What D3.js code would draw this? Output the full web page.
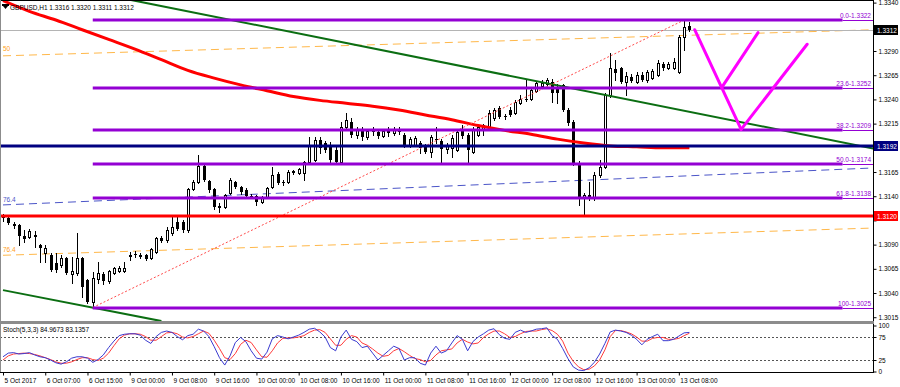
<!DOCTYPE html>
<html>
<head>
<meta charset="utf-8">
<script src="https://cdn.jsdelivr.net/npm/d3@7"></script>
<style>
body { margin: 0; background: #fff; }
text { font-family: "Liberation Sans", Arial, sans-serif; font-size: 6.5px; }
</style>
</head>
<body>
<div class="chart"></div>
<script>
// GBPUSD H1 candles, bar index 0 = 5 Oct 2017 23:00
var open = [1.3120,1.3117,1.3111,1.3110,1.3099,1.3098,1.3100,1.3090,1.3081,1.3079,
  1.3071,1.3069,1.3076,1.3060,1.3061,1.3076,1.3053,1.3031,1.3054,1.3060,
  1.3052,1.3061,1.3063,1.3063,1.3078,1.3080,1.3079,1.3079,1.3076,1.3082,
  1.3097,1.3095,1.3102,1.3113,1.3113,1.3105,1.3147,1.3155,1.3171,1.3156,
  1.3147,1.3130,1.3129,1.3143,1.3155,1.3150,1.3146,1.3140,1.3140,1.3134,
  1.3139,1.3150,1.3163,1.3155,1.3155,1.3165,1.3164,1.3164,1.3175,1.3177,
  1.3198,1.3195,1.3193,1.3188,1.3175,1.3212,1.3217,1.3203,1.3208,1.3201,
  1.3207,1.3206,1.3202,1.3207,1.3205,1.3208,1.3203,1.3193,1.3193,1.3195,
  1.3192,1.3186,1.3199,1.3197,1.3189,1.3190,1.3188,1.3207,1.3203,1.3186,
  1.3203,1.3208,1.3212,1.3221,1.3231,1.3223,1.3229,1.3226,1.3236,1.3240,
  1.3240,1.3249,1.3254,1.3256,1.3258,1.3253,1.3255,1.3229,1.3217,1.3174,
  1.3139,1.3141,1.3138,1.3162,1.3170,1.3245,1.3271,1.3272,1.3258,1.3263,
  1.3258,1.3265,1.3260,1.3262,1.3265,1.3277,1.3272,1.3272,1.3268,1.3304,
  1.3316];
var high = [1.3122,1.3119,1.3113,1.3111,1.3105,1.3106,1.3104,1.3091,1.3090,1.3081,
  1.3081,1.3079,1.3077,1.3077,1.3102,1.3077,1.3054,1.3062,1.3072,1.3062,
  1.3064,1.3067,1.3068,1.3072,1.3082,1.3083,1.3081,1.3080,1.3086,1.3098,
  1.3099,1.3108,1.3119,1.3121,1.3115,1.3149,1.3157,1.3183,1.3173,1.3157,
  1.3149,1.3133,1.3142,1.3159,1.3156,1.3151,1.3148,1.3142,1.3141,1.3140,
  1.3150,1.3170,1.3165,1.3157,1.3167,1.3167,1.3169,1.3176,1.3201,1.3201,
  1.3201,1.3197,1.3196,1.3192,1.3217,1.3226,1.3221,1.3211,1.3212,1.3209,
  1.3211,1.3209,1.3209,1.3211,1.3212,1.3211,1.3205,1.3201,1.3202,1.3197,
  1.3194,1.3203,1.3211,1.3199,1.3195,1.3203,1.3208,1.3214,1.3205,1.3211,
  1.3213,1.3215,1.3229,1.3231,1.3233,1.3225,1.3232,1.3239,1.3245,1.3260,
  1.3252,1.3259,1.3260,1.3262,1.3261,1.3256,1.3256,1.3231,1.3219,1.3176,
  1.3143,1.3155,1.3165,1.3177,1.3247,1.3288,1.3281,1.3273,1.3268,1.3266,
  1.3268,1.3268,1.3270,1.3271,1.3281,1.3279,1.3279,1.3283,1.3307,1.3322,
  1.3320];
var low = [1.3114,1.3111,1.3107,1.3090,1.3093,1.3097,1.3088,1.3072,1.3072,1.3063,
  1.3062,1.3067,1.3060,1.3050,1.3059,1.3036,1.3030,1.3025,1.3050,1.3049,
  1.3050,1.3060,1.3062,1.3062,1.3074,1.3077,1.3076,1.3074,1.3075,1.3081,
  1.3093,1.3093,1.3100,1.3105,1.3103,1.3103,1.3146,1.3154,1.3156,1.3144,
  1.3127,1.3124,1.3128,1.3142,1.3149,1.3142,1.3138,1.3138,1.3131,1.3133,
  1.3138,1.3149,1.3153,1.3152,1.3154,1.3163,1.3163,1.3157,1.3174,1.3176,
  1.3185,1.3186,1.3173,1.3173,1.3174,1.3208,1.3201,1.3200,1.3198,1.3199,
  1.3203,1.3200,1.3201,1.3202,1.3203,1.3204,1.3191,1.3191,1.3192,1.3185,
  1.3185,1.3180,1.3195,1.3175,1.3185,1.3180,1.3187,1.3200,1.3175,1.3185,
  1.3202,1.3203,1.3211,1.3219,1.3221,1.3220,1.3223,1.3225,1.3235,1.3238,
  1.3239,1.3248,1.3253,1.3255,1.3237,1.3236,1.3228,1.3214,1.3172,1.3131,
  1.3121,1.3136,1.3136,1.3160,1.3169,1.3243,1.3260,1.3257,1.3245,1.3258,
  1.3257,1.3259,1.3258,1.3261,1.3264,1.3270,1.3271,1.3271,1.3267,1.3291,
  1.3311];
var close = [1.3117,1.3112,1.3109,1.3099,1.3096,1.3104,1.3098,1.3087,1.3087,1.3064,
  1.3064,1.3076,1.3061,1.3063,1.3076,1.3046,1.3031,1.3056,1.3061,1.3052,
  1.3063,1.3066,1.3066,1.3066,1.3079,1.3079,1.3077,1.3075,1.3085,1.3097,
  1.3094,1.3105,1.3108,1.3106,1.3105,1.3147,1.3155,1.3171,1.3157,1.3146,
  1.3129,1.3128,1.3141,1.3157,1.3150,1.3144,1.3140,1.3139,1.3134,1.3139,
  1.3149,1.3162,1.3154,1.3154,1.3165,1.3166,1.3168,1.3175,1.3193,1.3198,
  1.3190,1.3188,1.3177,1.3175,1.3212,1.3219,1.3203,1.3208,1.3201,1.3207,
  1.3206,1.3202,1.3207,1.3205,1.3208,1.3206,1.3192,1.3199,1.3200,1.3190,
  1.3186,1.3201,1.3198,1.3189,1.3193,1.3200,1.3206,1.3202,1.3188,1.3208,
  1.3211,1.3214,1.3226,1.3229,1.3222,1.3222,1.3224,1.3237,1.3240,1.3239,
  1.3250,1.3257,1.3257,1.3260,1.3247,1.3247,1.3229,1.3216,1.3174,1.3137,
  1.3141,1.3137,1.3162,1.3170,1.3245,1.3272,1.3267,1.3258,1.3264,1.3259,
  1.3265,1.3260,1.3268,1.3269,1.3278,1.3272,1.3277,1.3279,1.3304,1.3315,
  1.3312];

// Stochastic (5,3,3)
var stochK = [32,40,41,38,39,41,36,32,30,25, 19,16,21,29,32,32,29,20,26,36,
  52,66,78,81,82,82,79,68,61,76, 85,88,85,76,69,78,81,92,88,76,
  54,30,14,34,63,74,65,45,29,27, 42,71,78,75,71,75,79,85,92,94,
  86,75,52,45,75,90,70,65,52,55, 40,25,35,45,55,50,25,30,30,18,
  14,40,55,40,45,62,78,70,45,65, 75,82,90,93,80,72,70,85,90,85,
  88,92,93,95,78,70,50,28,10,3, 2,8,20,38,61,86,90,88,85,79,
  70,58,70,76,81,67,67,70,77,84, 84.9673];
var stochD = [25,34,38,39,40,39,37,34,30,26, 21,18,18,21,26,30,30,26,24,29,
  40,56,71,79,82,82,81,76,68,68, 76,84,85,82,75,73,76,82,88,83,
  68,50,30,26,39,59,68,63,47,32, 31,45,62,72,73,73,75,78,85,90,
  91,85,71,57,57,70,78,75,62,57, 49,40,33,35,45,50,43,35,28,26,
  21,24,36,45,47,49,62,70,64,60, 62,74,82,88,88,82,74,76,82,87,
  88,88,91,93,89,81,66,40,22,10, 4,5,12,25,47,76,89,89,86,82,
  75,66,66,72,74,74,70,70,72,78, 83.1357];

// red moving average, read every 5 bars
var maBars = [0,5,10,15,20,25,30,35,40,45,50,55,60,65,70,75,80,85,90,95,100,105,110,115,120,125,130];
var maValues = [1.3342,1.3331,1.3322,1.3312,1.3302,1.3292,1.3281,1.3270,1.3262,1.3255,1.3249,1.3243,1.3239,
  1.3236,1.3233,1.3229,1.3224,1.3219,1.3213,1.3208,1.3204,1.3199,1.3195,1.3192,1.3191,1.3190,1.3190];

var timeTicks = [0,8,16,24,32,40,48,56,64,72,80,88,96,104,112,120,128];
var timeLabels = ["5 Oct 2017","6 Oct 07:00","6 Oct 15:00","9 Oct 00:00","9 Oct 08:00","9 Oct 16:00",
  "10 Oct 00:00","10 Oct 08:00","10 Oct 16:00","11 Oct 00:00","11 Oct 08:00","11 Oct 16:00",
  "12 Oct 00:00","12 Oct 08:00","12 Oct 16:00","13 Oct 00:00","13 Oct 08:00"];
var priceTicks = [1.3340,1.3315,1.3290,1.3265,1.3240,1.3215,1.3190,1.3165,1.3140,1.3115,1.3090,1.3065,1.3040,1.3015];
var stochTicks = [100,75,25,0];

// fibonacci retracement
var fibLevels = [0, 23.6, 38.2, 50, 61.8, 100];
var fibNames = ["0.0","23.6","38.2","50.0","61.8","100"];
var fibLowBar = 17, fibLow = 1.3025, fibHighBar = 129, fibHigh = 1.3322, fibEndBar = 159;

// drawn lines [bar1, price1, bar2, price2]
var greenLines = [[24, 1.3343, 165, 1.3189], [0, 1.3043, 30, 1.3011]];
var orangeLines = [[0, 1.3285, 165, 1.3312], [0, 1.3079, 164, 1.3107]];
var blueDashed = [[0, 1.3131, 164, 1.3169]];
var magentaLines = [[131, 1.3312, 139.8, 1.3209], [136.2, 1.3253, 143, 1.3309], [139.8, 1.3209, 152.3, 1.3297]];
var blueLevel = 1.3192, redLevel = 1.3120, lastPrice = 1.3312;
var header = "GBPUSD,H1  1.3316 1.3320 1.3311 1.3312";

var width = 900, height = 387, plotRight = 873;
var mainTop = 0, mainBottom = 321, stTop = 324, stBottom = 372;

var x = d3.scaleLinear().domain([0, 130]).range([3, 689.4]);
var y = d3.scaleLinear().domain([1.30111, 1.33427]).range([mainBottom, mainTop]);
var ys = d3.scaleLinear().domain([0, 100]).range([371.5, 325.5]);

var svg = d3.select(".chart").append("svg")
    .attr("width", width)
    .attr("height", height);

svg.append("rect").attr("width", width).attr("height", height).attr("fill", "#fff");

var defs = svg.append("defs");
defs.append("clipPath").attr("id", "clipMain")
    .append("rect").attr("x", 0).attr("y", mainTop).attr("width", plotRight).attr("height", mainBottom - mainTop);
defs.append("clipPath").attr("id", "clipSt")
    .append("rect").attr("x", 0).attr("y", stTop).attr("width", plotRight).attr("height", stBottom - stTop);

var main = svg.append("g").attr("clip-path", "url(#clipMain)");

function seg(g, d, color, w, dash) {
    var l = g.append("line")
        .attr("x1", x(d[0])).attr("y1", y(d[1]))
        .attr("x2", x(d[2])).attr("y2", y(d[3]))
        .attr("stroke", color).attr("stroke-width", w);
    if (dash) l.attr("stroke-dasharray", dash);
    return l;
}

// fib channel dashed lines
orangeLines.forEach(function (d) { seg(main, d, "#ffb84a", 1, "8,5"); });
blueDashed.forEach(function (d) { seg(main, d, "#4b55c8", 1, "8,5"); });
main.append("text").attr("x", 3).attr("y", y(1.3288) - 2).attr("fill", "#ffa020").text("50");
main.append("text").attr("x", 3).attr("y", y(1.3131) - 3).attr("fill", "#4b55c8").text("76.4");
main.append("text").attr("x", 3).attr("y", y(1.3079) - 3).attr("fill", "#ffa020").text("76.4");

// current price line
main.append("line").attr("x1", 0).attr("x2", plotRight)
    .attr("y1", Math.round(y(lastPrice)) + 0.5).attr("y2", Math.round(y(lastPrice)) + 0.5)
    .attr("stroke", "#b4b4b4").attr("stroke-width", 1);

// candles
var bars = d3.range(open.length);
var cg = main.append("g");
bars.forEach(function (i) {
    var cx = Math.round(x(i));
    cg.append("line")
        .attr("x1", cx + 0.5).attr("x2", cx + 0.5)
        .attr("y1", Math.round(y(high[i]))).attr("y2", Math.round(y(low[i])) + 1)
        .attr("stroke", "#000").attr("stroke-width", 1);
    var top = Math.round(y(Math.max(open[i], close[i])));
    var bot = Math.round(y(Math.min(open[i], close[i])));
    if (close[i] >= open[i]) {
        cg.append("rect").attr("x", cx - 0.5).attr("y", top + 0.5)
            .attr("width", 2).attr("height", Math.max(bot - top, 0))
            .attr("fill", "#fff").attr("stroke", "#000").attr("stroke-width", 1);
    } else {
        cg.append("rect").attr("x", cx - 1).attr("y", top)
            .attr("width", 3).attr("height", Math.max(bot - top, 1))
            .attr("fill", "#000");
    }
});

// moving average
main.append("path")
    .datum(maBars.map(function (b, k) { return [b, maValues[k]]; }))
    .attr("fill", "none").attr("stroke", "#ff0000").attr("stroke-width", 3)
    .attr("d", d3.line().x(function (d) { return x(d[0]); }).y(function (d) { return y(d[1]); }).curve(d3.curveMonotoneX));

// trend channel
greenLines.forEach(function (d) { seg(main, d, "#0b6e12", 2); });

// fibonacci
seg(main, [fibLowBar, fibLow, fibHighBar, fibHigh], "#ff4a4a", 1, "2,2");
fibLevels.forEach(function (lv, k) {
    var p = fibHigh - (fibHigh - fibLow) * lv / 100;
    var yy = Math.round(y(p));
    main.append("line").attr("x1", x(fibLowBar)).attr("x2", x(fibEndBar))
        .attr("y1", yy).attr("y2", yy).attr("stroke", "#9400d3").attr("stroke-width", 3);
    main.append("line").attr("x1", x(fibEndBar)).attr("x2", plotRight)
        .attr("y1", yy + 0.5).attr("y2", yy + 0.5).attr("stroke", "#9400d3").attr("stroke-width", 1);
    main.append("text").attr("x", plotRight - 2).attr("y", yy - 2)
        .attr("text-anchor", "end").attr("fill", "#9400d3")
        .text(fibNames[k] + "-" + p.toFixed(4));
});

// horizontal levels
[[blueLevel, "#000080"], [redLevel, "#ff0000"]].forEach(function (d) {
    var yy = Math.round(y(d[0]));
    main.append("line").attr("x1", 0).attr("x2", plotRight)
        .attr("y1", yy).attr("y2", yy).attr("stroke", d[1]).attr("stroke-width", 3);
});

// projection
magentaLines.forEach(function (d) { seg(main, d, "#ff00ff", 3).attr("stroke-linecap", "round"); });

// header with the small trade-panel marker
svg.append("rect").attr("x", 2).attr("y", 4).attr("width", 7).attr("height", 2).attr("fill", "#000");
svg.append("path").attr("d", "M3,6 L8,6 L5.5,9 Z").attr("fill", "#000");
svg.append("text").attr("x", 10).attr("y", 10).attr("fill", "#000").text(header);

// stochastic panel
var st = svg.append("g").attr("clip-path", "url(#clipSt)");
[75, 25].forEach(function (v) {
    st.append("line").attr("x1", 0).attr("x2", plotRight)
        .attr("y1", Math.round(ys(v)) + 0.5).attr("y2", Math.round(ys(v)) + 0.5)
        .attr("stroke", "#555").attr("stroke-width", 1).attr("stroke-dasharray", "2,2");
});
var sline = d3.line().x(function (d, i) { return x(i); }).y(function (d) { return ys(d); });
st.append("path").datum(stochD).attr("fill", "none").attr("stroke", "#ff3b3b").attr("stroke-width", 1).attr("d", sline);
st.append("path").datum(stochK).attr("fill", "none").attr("stroke", "#3a3ad0").attr("stroke-width", 1).attr("d", sline);
svg.append("text").attr("x", 3).attr("y", 332).attr("fill", "#000")
    .text("Stoch(5,3,3) " + stochK[stochK.length - 1].toFixed(4) + " " + stochD[stochD.length - 1].toFixed(4));

// frames
svg.append("rect").attr("x", 0.5).attr("y", 0.5).attr("width", plotRight).attr("height", stBottom)
    .attr("fill", "none").attr("stroke", "#000").attr("stroke-width", 1);
svg.append("rect").attr("x", 0).attr("y", mainBottom).attr("width", plotRight + 1).attr("height", 3).attr("fill", "#8c8c8c");
svg.append("line").attr("x1", 0.5).attr("x2", 0.5).attr("y1", 0).attr("y2", stBottom).attr("stroke", "#8c8c8c");

// price axis; labels hidden behind the level boxes are left out
var boxed = [lastPrice, blueLevel, redLevel];
var yAxis = svg.append("g").attr("transform", "translate(" + (plotRight + 0.5) + ",0)")
    .call(d3.axisRight(y).tickValues(priceTicks).tickSize(3).tickPadding(2)
        .tickFormat(function (d) {
            var hidden = boxed.some(function (b) { return Math.abs(y(b) - y(d)) < 8; });
            return hidden ? "" : d.toFixed(4);
        }));
yAxis.select(".domain").remove();
yAxis.selectAll("text").attr("font-size", null).attr("font-family", null);

var sAxis = svg.append("g").attr("transform", "translate(" + (plotRight + 0.5) + ",0)")
    .call(d3.axisRight(ys).tickValues(stochTicks).tickSize(3).tickPadding(2));
sAxis.select(".domain").remove();
sAxis.selectAll("text").attr("font-size", null).attr("font-family", null);

// price boxes on axis
[[lastPrice, "#000", "#fff"], [blueLevel, "#000080", "#fff"], [redLevel, "#ff0000", "#fff"]].forEach(function (d) {
    var yy = Math.round(y(d[0]));
    svg.append("rect").attr("x", plotRight + 1).attr("y", yy - 5).attr("width", 24).attr("height", 10).attr("fill", d[1]);
    svg.append("text").attr("x", plotRight + 4).attr("y", yy + 2.5).attr("fill", d[2]).text(d[0].toFixed(4));
});

// time axis
var xAxis = svg.append("g").attr("transform", "translate(0," + (stBottom + 0.5) + ")")
    .call(d3.axisBottom(x).tickValues(timeTicks).tickSize(3).tickPadding(3)
        .tickFormat(function (d, i) { return timeLabels[i]; }));
xAxis.select(".domain").remove();
xAxis.selectAll("text").attr("text-anchor", "start").attr("dx", 1).attr("font-size", null).attr("font-family", null);
</script>
</body>
</html>
